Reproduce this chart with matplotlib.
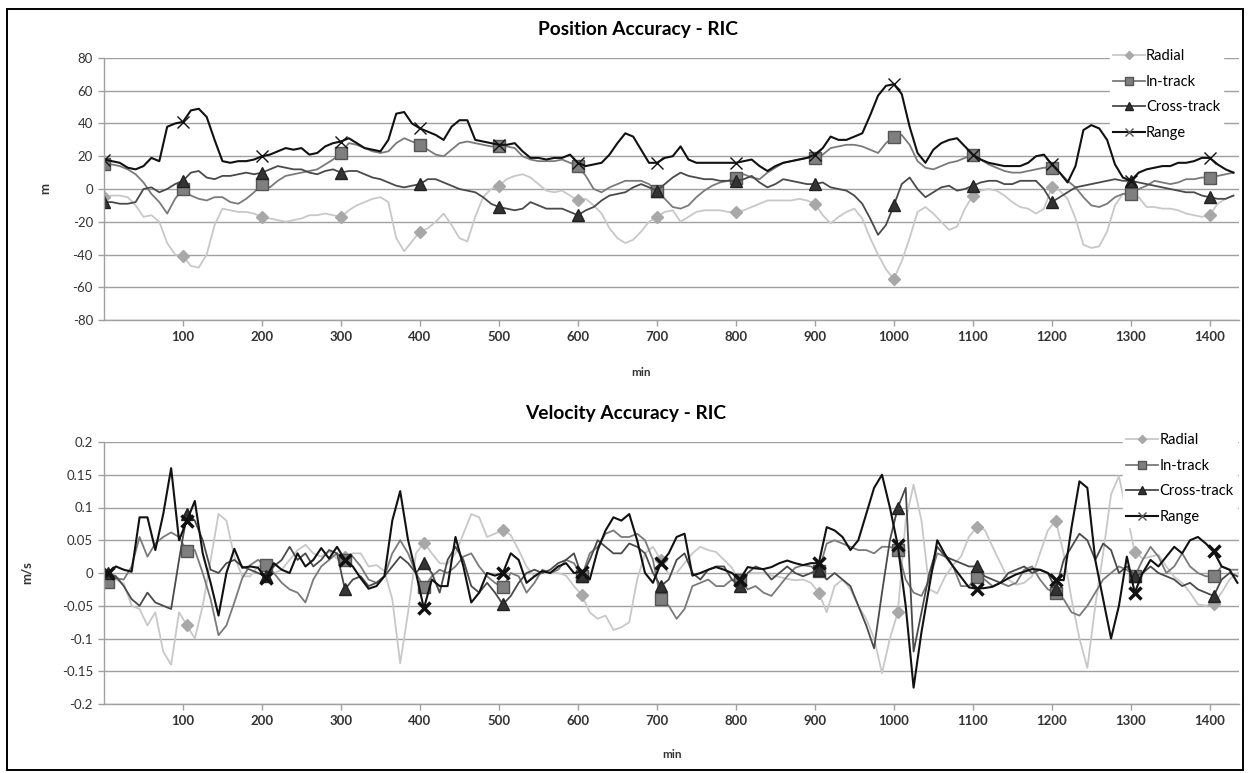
import numpy as np
import matplotlib
matplotlib.use("Agg")
import matplotlib.pyplot as plt
from matplotlib.patches import Rectangle

plt.rcParams['font.family'] = ['Lato', 'DejaVu Sans']

# ---- data: position (m), sampled every 10 min ----
pos_min = np.arange(0, 1440, 10)

pos_radial = [
    -5, -4, -4, -5, -10, -17, -16, -20, -33, -40,
    -41, -47, -48, -40, -22, -12, -13, -14, -14, -15,
    -17, -18, -19, -20, -19, -18, -16, -16, -15, -16,
    -17, -13, -10, -8, -6, -5, -8, -30, -38, -32,
    -26, -24, -20, -15, -22, -30, -32, -17, -5, 0,
    2, 6, 8, 9, 7, 3, -1, -2, -1, -4,
    -7, -6, -10, -15, -24, -30, -33, -31, -26, -20,
    -17, -14, -13, -20, -17, -14, -13, -13, -13, -14,
    -14, -13, -11, -9, -7, -7, -7, -7, -6, -7,
    -9, -16, -21, -17, -14, -12, -18, -30, -40, -49,
    -55, -44, -30, -14, -11, -15, -20, -25, -23, -12,
    -4, -1, 0, -1, -4, -8, -11, -12, -15, -12,
    1, -1, -6, -18, -34, -36, -35, -26, -10, -3,
    -2, -5, -11, -11, -12, -12, -13, -15, -16, -17,
    -16, -9, -6, -4,
]
pos_intrack = [
    15, 15, 14, 12, 9, 4, -3, -8, -15, -6,
    0, -4, -6, -7, -5, -5, -8, -9, -6, -2,
    3, 1, 5, 8, 9, 10, 11, 12, 15, 18,
    22, 28, 27, 25, 23, 22, 23, 28, 31, 29,
    27, 24, 21, 20, 24, 28, 29, 28, 27, 26,
    26, 26, 25, 20, 18, 17, 17, 17, 18, 16,
    14, 8, 0, -2, 1, 3, 5, 5, 5, 3,
    -1, -6, -11, -12, -10, -5, -1, 2, 4, 5,
    7, 9, 7, 6, 10, 13, 16, 17, 18, 19,
    19, 21, 25, 26, 27, 27, 26, 24, 22, 28,
    32, 33, 27, 17, 13, 12, 14, 16, 17, 19,
    21, 18, 15, 13, 11, 10, 10, 11, 12, 13,
    13, 10, 5, 1, -5, -10, -11, -9, -5, -3,
    -3, 0, 2, 5, 4, 3, 4, 6, 6, 7,
    7, 8, 9, 10,
]
pos_crosstrack = [
    -8, -8, -9, -9, -8, 0, 1, -2, 0, 3,
    5, 10, 11, 7, 6, 8, 8, 9, 10, 9,
    10, 12, 14, 13, 12, 12, 10, 9, 11, 12,
    10, 11, 11, 9, 7, 6, 4, 2, 1, 2,
    3, 6, 6, 4, 2, 0, -1, -2, -5, -9,
    -11, -12, -13, -12, -8, -10, -12, -12, -12, -14,
    -16, -13, -11, -7, -4, -3, -2, 1, 3, 1,
    -1, 3, 7, 10, 8, 7, 6, 6, 5, 5,
    5, 6, 8, 4, 1, 3, 6, 5, 4, 3,
    3, 4, 1, 0, -1, -4, -9, -18, -28, -22,
    -10, 3, 7, 0, -5, -2, 1, 2, -1, 0,
    2, 4, 5, 5, 3, 3, 5, 5, 5, 0,
    -8, -5, -2, 1, 2, 3, 4, 5, 6, 5,
    5, 4, 3, 2, 1, 0, -1, -2, -2, -4,
    -5, -6, -6, -4,
]
pos_range = [
    18, 17, 16, 13, 12, 14, 19, 17, 38, 40,
    41, 48, 49, 44, 30, 17, 16, 17, 17, 18,
    20, 21, 23, 25, 24, 25, 21, 22, 26, 28,
    29, 31, 28, 25, 24, 23, 30, 46, 47, 40,
    37, 35, 33, 30, 38, 42, 42, 30, 29, 28,
    27, 27, 28, 23, 19, 19, 18, 19, 19, 21,
    16, 14, 15, 16, 21, 28, 34, 32, 24, 16,
    16, 19, 20, 26, 18, 16, 16, 16, 16, 16,
    16, 17, 18, 14, 11, 14, 16, 17, 18, 19,
    21, 25, 32, 30, 30, 32, 34, 45, 57, 63,
    64, 58, 38, 22, 16, 24, 28, 30, 31, 26,
    21, 18, 16, 15, 14, 14, 14, 16, 20, 21,
    15, 10, 4, 14, 36, 39, 37, 30, 15, 7,
    5, 10, 12, 13, 14, 14, 16, 16, 17, 19,
    19, 15, 12, 10,
]

# ---- data: velocity (m/s), sampled every 10 min ----
vel_min = np.arange(5, 1440, 10)

vel_radial = [
    -0.006, -0.01, -0.016, -0.05, -0.055, -0.08, -0.06, -0.12, -0.14, -0.06,
    -0.08, -0.1, -0.05, 0.02, 0.09, 0.08, 0.025, -0.005, -0.005, 0.01,
    0.012, 0.0, 0.005, 0.02, 0.035, 0.043, 0.03, 0.025, 0.033, 0.022,
    0.025, 0.03, 0.03, 0.01, 0.012, 0.003, -0.04, -0.138, -0.06, 0.03,
    0.046, 0.03, 0.015, 0.014, 0.03, 0.06, 0.09, 0.085, 0.055, 0.06,
    0.066, 0.058, 0.035, 0.01, -0.006, 0.0, 0.0, 0.0, -0.004, -0.02,
    -0.034, -0.06, -0.07, -0.065, -0.087, -0.083, -0.075, -0.01, 0.03, 0.04,
    0.02, -0.002, 0.0, 0.015, 0.03, 0.04, 0.035, 0.032, 0.02, 0.008,
    -0.015, 0.0, 0.0, 0.0, -0.004, -0.006, -0.009, -0.011, -0.01, -0.015,
    -0.03, -0.06, -0.02, -0.01, -0.025, -0.05, -0.07, -0.1, -0.153, -0.1,
    -0.06, 0.08, 0.135, 0.08, -0.025, -0.031, -0.005, 0.012, 0.025, 0.055,
    0.07, 0.066, 0.04, 0.015, -0.01, -0.018, -0.015, -0.005, 0.03, 0.065,
    0.08, 0.03, -0.04, -0.1, -0.145, -0.05, 0.03, 0.12, 0.148, 0.09,
    0.032, 0.022, 0.025, 0.028, 0.01, -0.006, -0.015, -0.03, -0.048, -0.05,
    -0.047, -0.03, -0.01, 0.0,
]
vel_intrack = [
    -0.014, -0.008, -0.01, 0.01, 0.055, 0.025, 0.045, 0.055, 0.062, 0.055,
    0.033, 0.035, 0.0, -0.04, -0.095, -0.08, -0.045, -0.008, 0.012, 0.02,
    0.012, 0.0, -0.015, -0.025, -0.03, -0.045, -0.01, 0.01, 0.02, 0.03,
    0.02, 0.025, 0.01, -0.01, -0.015, -0.005, 0.03, 0.05, 0.03, 0.0,
    -0.022, -0.005, 0.005, 0.0, 0.01, 0.025, 0.03, 0.01, -0.005, -0.015,
    -0.022, 0.0, -0.005, -0.03, -0.015, 0.005, 0.0, 0.005, 0.02, 0.015,
    -0.005, 0.03, 0.04, 0.06, 0.065, 0.055, 0.055, 0.06, 0.05, 0.02,
    -0.04, -0.05, -0.07, -0.055, -0.02, -0.015, -0.01, -0.02, -0.02, -0.01,
    -0.01, -0.025, -0.02, -0.03, -0.035, -0.02, -0.005, 0.008, 0.012, 0.01,
    0.003, 0.045, 0.05, 0.045, 0.04, 0.035, 0.035, 0.03, 0.04, 0.04,
    0.035, -0.01, -0.03, -0.035, -0.01, 0.03, 0.025, 0.01, -0.02, -0.02,
    -0.006, -0.01, -0.02, -0.015, -0.02, -0.015, 0.005, 0.01, -0.01, -0.025,
    -0.03, -0.04, -0.06, -0.065, -0.05, -0.03, -0.01, 0.0, 0.01, 0.005,
    -0.005, 0.02, 0.04, 0.025, 0.0, 0.01, 0.03, 0.01, 0.0, -0.005,
    -0.005, 0.01, 0.005, 0.005,
]
vel_crosstrack = [
    0.0, -0.005, -0.02, -0.04, -0.05, -0.03, -0.045, -0.05, -0.055, 0.02,
    0.09, 0.08, 0.05, 0.005, 0.0, 0.015, 0.02, 0.01, 0.005, 0.0,
    -0.005, 0.01, 0.02, 0.04, 0.02, 0.03, 0.01, 0.02, 0.035, 0.03,
    -0.025, -0.01, -0.005, -0.02, -0.015, -0.005, 0.01, 0.025, 0.015, 0.0,
    0.015, 0.0, -0.03, 0.02, 0.04, 0.02, -0.02, -0.03, -0.015, -0.03,
    -0.048, -0.035, -0.015, 0.0, 0.005, 0.0, 0.005, 0.015, 0.02, 0.03,
    -0.005, 0.02, 0.05, 0.04, 0.03, 0.03, 0.045, 0.04, 0.03, 0.0,
    -0.02, -0.01, 0.02, 0.03, 0.0, -0.01, 0.005, 0.01, 0.01, -0.01,
    -0.02, 0.0, 0.01, 0.005, -0.01, 0.0, 0.01, 0.0, -0.005, 0.0,
    0.005, -0.01, 0.0, -0.01, -0.02, -0.05, -0.08, -0.115, -0.03, 0.05,
    0.1, 0.13, -0.12, -0.06, 0.0, 0.04, 0.025, 0.02, 0.015, 0.01,
    0.01, -0.005, -0.01, -0.015, 0.0, 0.005, 0.01, 0.0, 0.005, 0.0,
    -0.025, 0.02, 0.04, 0.06, 0.05, 0.02, 0.045, 0.035, 0.0, 0.01,
    -0.005, 0.0, 0.01, 0.0, -0.005, -0.01, -0.02, -0.015, -0.025, -0.03,
    -0.035, -0.01, 0.0, -0.005,
]
vel_range = [
    0.0, 0.01, 0.005, 0.002, 0.085, 0.085, 0.035, 0.09, 0.16, 0.05,
    0.08, 0.11, 0.03, -0.015, -0.065, 0.0, 0.037, 0.008, 0.01, 0.008,
    -0.008, 0.015, 0.005, 0.0, 0.03, 0.01, 0.02, 0.038, 0.022, 0.04,
    0.02, 0.01, -0.008, -0.024, -0.02, -0.005, 0.08, 0.125, 0.05, 0.0,
    -0.054, -0.01, -0.02, -0.02, 0.055, 0.01, -0.045, -0.03, 0.0, -0.004,
    0.0, 0.03, 0.02, -0.015, -0.005, 0.003, 0.0, 0.01, 0.015, 0.0,
    0.002, -0.01, 0.035, 0.065, 0.085, 0.08, 0.09, 0.05, 0.0, -0.015,
    0.015, 0.03, 0.055, 0.06, -0.004, 0.0, 0.005, 0.009, 0.005, 0.0,
    -0.01, 0.009, 0.007, 0.006, 0.009, 0.015, 0.019, 0.015, 0.012, 0.015,
    0.015, 0.07, 0.065, 0.055, 0.035, 0.05, 0.09, 0.13, 0.15, 0.1,
    0.042, -0.05, -0.175, -0.09, -0.02, 0.05, 0.028, 0.01, -0.006, -0.022,
    -0.024, -0.023, -0.021, -0.015, -0.008, -0.002, 0.002, 0.006, 0.005, 0.0,
    -0.01, -0.011, 0.07, 0.14, 0.13, 0.02, -0.04, -0.1, -0.05, 0.025,
    -0.03, 0.0, 0.02, 0.01, 0.025, 0.04, 0.03, 0.05, 0.055, 0.045,
    0.033, 0.01, 0.005, -0.015,
]

labels = ['Radial', 'In-track', 'Cross-track', 'Range']
pos_ticks = [-80, -60, -40, -20, 0, 20, 40, 60, 80]
vel_ticks = [-0.2, -0.15, -0.1, -0.05, 0, 0.05, 0.1, 0.15, 0.2]
vel_ticklabels = ['-0.2', '-0.15', '-0.1', '-0.05', '0', '0.05', '0.1', '0.15', '0.2']
x_ticks = list(range(100, 1401, 100))

styles = [
    dict(color='#c8c8c8', marker='D', ms=6, mfc='#a8a8a8', mec='#a8a8a8', lw=1.3),
    dict(color='#7a7a7a', marker='s', ms=8, mfc='#7f7f7f', mec='#555555', lw=1.3),
    dict(color='#4a4a4a', marker='^', ms=8, mfc='#333333', mec='#222222', lw=1.3),
    dict(color='#111111', marker='x', ms=9, mec='#111111', mew=1.4, lw=1.5),
]

fig = plt.figure(figsize=(12.5, 7.73), dpi=100)
fig.patches.append(Rectangle((7 / 1250, 3 / 773), 1236 / 1250, 761 / 773,
                             transform=fig.transFigure, fill=False,
                             edgecolor='black', linewidth=1.4))

ax1 = fig.add_axes([104 / 1250, 1 - 320 / 773, 1135 / 1250, 262 / 773])
ax2 = fig.add_axes([104 / 1250, 1 - 704 / 773, 1135 / 1250, 262 / 773])


def style_axes(ax, ticks, ticklabels, ylim):
    ax.set_xlim(0, 1437)
    ax.set_ylim(*ylim)
    ax.set_yticks(ticks)
    ax.set_yticklabels(ticklabels, fontsize=9.5, color='#333333')
    ax.set_xticks(x_ticks)
    ax.set_xticklabels([str(t) for t in x_ticks], fontsize=9.5,
                       fontweight='bold', color='#333333')
    ax.tick_params(axis='both', direction='out', length=4, width=1,
                   color='#a0a0a0', pad=4)
    ax.grid(axis='y', color='#a0a0a0', linewidth=1)
    ax.set_axisbelow(True)
    for s in ['top', 'right']:
        ax.spines[s].set_visible(False)
    for s in ['left', 'bottom']:
        ax.spines[s].set_color('#a0a0a0')
        ax.spines[s].set_linewidth(1)


def add_legend(ax, x0):
    leg = ax.legend(loc='upper left', bbox_to_anchor=(x0, 1.045), frameon=True,
                    fontsize=10.5, handlelength=2.2, labelspacing=0.8,
                    handletextpad=0.1, borderpad=0.2, borderaxespad=0)
    leg.get_frame().set_edgecolor('white')
    leg.get_frame().set_facecolor('white')
    leg.get_frame().set_alpha(1)
    # small markers in the legend, as in the original
    for h, ms in zip(leg.legend_handles, [4.5, 6, 6, 6]):
        h.set_markersize(ms)
        if h.get_marker() == 'x':
            h.set_markeredgewidth(1.0)
            h.set_markeredgecolor('#555555')
    return leg


# top panel
for vals, lab, st in zip([pos_radial, pos_intrack, pos_crosstrack, pos_range],
                         labels, styles):
    st1 = dict(st)
    if st1['marker'] == 'x':
        st1['mew'] = 1.0
    ax1.plot(pos_min, vals, label=lab, markevery=10, **st1)
style_axes(ax1, pos_ticks, [str(t) for t in pos_ticks], (-80, 80))
add_legend(ax1, 0.886)

# bottom panel
for vals, lab, st in zip([vel_radial, vel_intrack, vel_crosstrack, vel_range],
                         labels, styles):
    st2 = dict(st)
    if st2['marker'] == 'x':
        st2['mew'] = 2.5
        st2['ms'] = 8
    ax2.plot(vel_min, vals, label=lab, markevery=10, **st2)
style_axes(ax2, vel_ticks, vel_ticklabels, (-0.2, 0.2))
add_legend(ax2, 0.898)

# titles and axis labels
fig.text(638 / 1250, 1 - 30 / 773, 'Position Accuracy - RIC', ha='center', va='center',
         fontsize=13.8, fontweight='bold')
fig.text(626 / 1250, 1 - 413 / 773, 'Velocity Accuracy - RIC', ha='center', va='center',
         fontsize=13.8, fontweight='bold')
fig.text(641 / 1250, 1 - 372 / 773, 'min', ha='center', va='center',
         fontsize=8.5, fontweight='bold', color='#333333')
fig.text(672 / 1250, 1 - 755 / 773, 'min', ha='center', va='center',
         fontsize=8.5, fontweight='bold', color='#333333')
fig.text(45 / 1250, 1 - 189 / 773, 'm', ha='center', va='center', rotation=90,
         fontsize=9.5, fontweight='bold', color='#333333')
fig.text(27 / 1250, 1 - 573 / 773, 'm/s', ha='center', va='center', rotation=90,
         fontsize=9.5, fontweight='bold', color='#333333')

fig.savefig('out.png', dpi=100)
